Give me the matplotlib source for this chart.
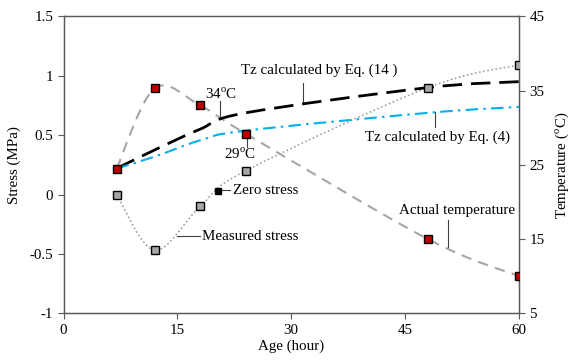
import matplotlib
matplotlib.use("Agg")
import matplotlib.pyplot as plt
from matplotlib.path import Path
from matplotlib.patches import PathPatch

plt.rcParams['font.family'] = ['Liberation Serif', 'DejaVu Serif']
plt.rcParams['mathtext.fontset'] = 'custom'
plt.rcParams['mathtext.rm'] = 'Liberation Serif'
plt.rcParams['axes.unicode_minus'] = False

# ---- data ----
age = [7, 12, 18, 24, 48, 60]
actual_temp = [24.5, 35.3, 33.0, 29.2, 15.0, 10.0]
tz_eq14 = [24.5, 27.0, 29.8, 32.0, 35.4, 36.2]
tz_eq4 = [24.5, 26.1, 28.3, 29.6, 32.0, 32.8]
measured_stress = [0.0, -0.47, -0.10, 0.20, 0.90, 1.09]
zero_stress_age = [20.4]
zero_stress_val = [0.03]

x_ticks = [0, 15, 30, 45, 60]
stress_ticks = [-1, -0.5, 0, 0.5, 1, 1.5]
stress_ticklabels = ['-1', '-0.5', '0', '0.5', '1', '1.5']
temp_ticks = [5, 15, 25, 35, 45]

FS = 10.8


def smooth_path(xs, ys):
    """Excel-like smoothed line as cubic Bezier path through the points."""
    pts = list(zip(xs, ys))
    n = len(pts)
    verts = [pts[0]]
    codes = [Path.MOVETO]
    for i in range(n - 1):
        p0 = pts[i - 1] if i > 0 else pts[i]
        p1 = pts[i]
        p2 = pts[i + 1]
        p3 = pts[i + 2] if i + 2 < n else pts[i + 1]
        c1 = (p1[0] + (p2[0] - p0[0]) / 6, p1[1] + (p2[1] - p0[1]) / 6)
        c2 = (p2[0] - (p3[0] - p1[0]) / 6, p2[1] - (p3[1] - p1[1]) / 6)
        verts += [c1, c2, p2]
        codes += [Path.CURVE4] * 3
    return Path(verts, codes)


def s2t(s):
    # stress axis (-1..1.5) -> temperature axis (5..45)
    return (s + 1) * 16 + 5


fig = plt.figure(figsize=(5.69, 3.61), dpi=100)
ax = fig.add_axes([0.1116, 0.1321, 0.8004, 0.8227])
ax2 = ax.twinx()

ax.set_xlim(0, 60)
ax.set_ylim(-1, 1.5)
ax2.set_ylim(5, 45)

# temperature series (right axis)
ax2.add_patch(PathPatch(smooth_path(age, tz_eq14), fill=False, edgecolor='black',
                        lw=2.0, linestyle=(0, (7, 3.2)), zorder=3))
ax2.add_patch(PathPatch(smooth_path(age, tz_eq4), fill=False, edgecolor='#00b0f0',
                        lw=1.5, linestyle=(0, (6, 2.5, 1.2, 2.5)), zorder=3))
ax2.add_patch(PathPatch(smooth_path(age, actual_temp), fill=False, edgecolor='#a6a6a6',
                        lw=1.5, linestyle=(0, (5, 3.5)), zorder=2))
ax2.plot(age, actual_temp, linestyle='none', marker='s', markersize=6,
         markerfacecolor='#c00000', markeredgecolor='black', markeredgewidth=1.0, zorder=5)

# stress series (left axis values, drawn in the shared frame)
ms_t = [s2t(s) for s in measured_stress]
ax2.add_patch(PathPatch(smooth_path(age, ms_t), fill=False, edgecolor='#a0a0a0', lw=1.2,
                        linestyle=(0, (1, 1.5)), zorder=2))
ax2.plot(age, ms_t, linestyle='none', marker='s', markersize=6,
         markerfacecolor='#a6a6a6', markeredgecolor='black', markeredgewidth=1.0, zorder=5)
ax2.plot(zero_stress_age, [s2t(s) for s in zero_stress_val], linestyle='none',
         marker='s', markersize=4, markerfacecolor='black', markeredgecolor='black', zorder=6)

# axes styling
ax.set_xticks(x_ticks)
ax.set_yticks(stress_ticks)
ax.set_yticklabels(stress_ticklabels)
ax2.set_yticks(temp_ticks)
for a in (ax, ax2):
    a.tick_params(direction='out', length=4, width=0.8, colors='#595959',
                  labelcolor='black', labelsize=FS)
    for sp in a.spines.values():
        sp.set_color('#595959')
        sp.set_linewidth(0.9)

ax.set_xlabel('Age (hour)', fontsize=FS, labelpad=2)
ax.set_ylabel('Stress (MPa)', fontsize=FS, labelpad=6)
ax2.set_ylabel('Temperature ($^{\\mathrm{o}}$C)', fontsize=FS, labelpad=6)


def leader(p0, p1):
    ax.plot([p0[0], p1[0]], [p0[1], p1[1]], color='#404040', lw=0.8, zorder=4)


def px2data(px, py):
    return ((px - 63.5) / 7.59, (194.3 - py) / 119.0)


# annotations
t = px2data(318.7, 69.5)
ax.text(t[0], t[1], 'Tz calculated by Eq. (14 )', fontsize=FS, ha='center', va='center')
leader(px2data(302.7, 83), px2data(302.7, 101.7))

t = px2data(437, 136.7)
ax.text(t[0], t[1], 'Tz calculated by Eq. (4)', fontsize=FS, ha='center', va='center')
leader(px2data(435.3, 112), px2data(435.3, 127))

t = px2data(220.7, 94)
ax.text(t[0], t[1], '34$^{\\mathrm{o}}$C', fontsize=FS, ha='center', va='center')
leader(px2data(219.7, 100.5), px2data(219.7, 118.3))

t = px2data(240.5, 153.5)
ax.text(t[0], t[1], '29$^{\\mathrm{o}}$C', fontsize=FS, ha='center', va='center')
leader(px2data(247, 136), px2data(247, 146.5))

t = px2data(233, 190)
ax.text(t[0], t[1], 'Zero stress', fontsize=FS, ha='left', va='center')
leader(px2data(221, 190), px2data(230, 190))

t = px2data(201.7, 236)
ax.text(t[0], t[1], 'Measured stress', fontsize=FS, ha='left', va='center')
leader(px2data(177, 235.5), px2data(200, 235.5))

t = px2data(457, 210.7)
ax.text(t[0], t[1], 'Actual temperature', fontsize=FS, ha='center', va='center')
leader(px2data(447.7, 220), px2data(447.7, 248.3))

fig.savefig('out.png', dpi=100)
